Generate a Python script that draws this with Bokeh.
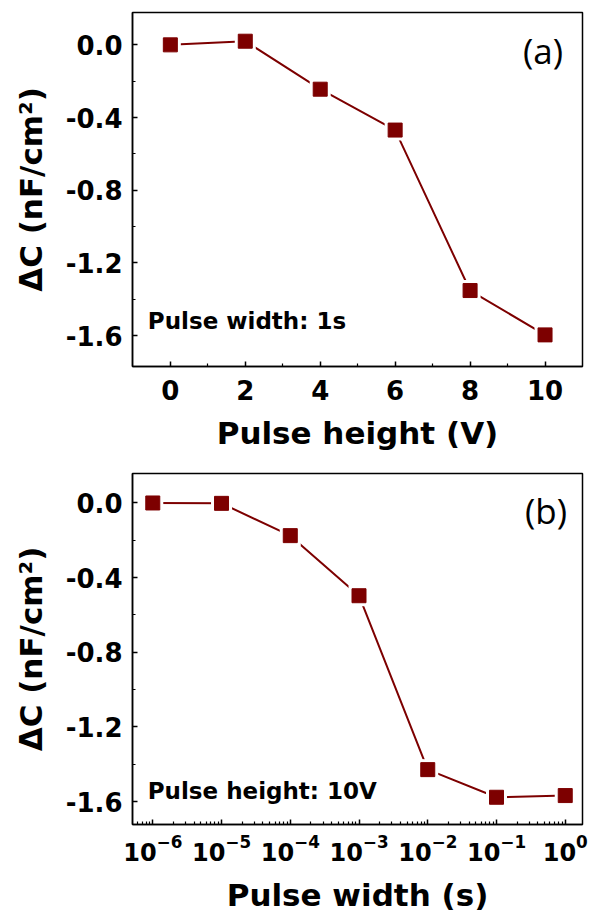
from bokeh.plotting import figure
from bokeh.models import Range1d, FixedTicker, NumeralTickFormatter, Label, LogTickFormatter
from bokeh.layouts import column
from bokeh.embed import file_html
from bokeh.resources import INLINE

# ---- data ----
pulse_height_v = [0, 2, 4, 6, 8, 10]
dc_vs_height = [0.0, 0.02, -0.244, -0.469, -1.352, -1.596]

pulse_width_s = [1e-6, 1e-5, 1e-4, 1e-3, 1e-2, 1e-1, 1e0]
dc_vs_width = [0.0, -0.002, -0.175, -0.497, -1.429, -1.577, -1.568]

y_major_ticks = [0.0, -0.4, -0.8, -1.2, -1.6]
y_minor_ticks = [-0.2, -0.6, -1.0, -1.4]
xa_major_ticks = [0, 2, 4, 6, 8, 10]
xa_minor_ticks = [1, 3, 5, 7, 9]
xb_major_ticks = [1e-6, 1e-5, 1e-4, 1e-3, 1e-2, 1e-1, 1e0]
xb_minor_ticks = [m * 10.0 ** e for e in range(-7, 1) for m in range(2, 10)]

MAROON = "#7d0000"
FONT = "DejaVu Sans"


def style(p, xlabel, ylabel):
    p.outline_line_color = "black"
    p.outline_line_width = 1.5
    p.xgrid.visible = False
    p.ygrid.visible = False
    p.background_fill_color = "white"
    p.border_fill_color = "white"
    for ax in (p.xaxis[0], p.yaxis[0]):
        ax.major_tick_in = 5
        ax.major_tick_out = 0
        ax.minor_tick_in = 3
        ax.minor_tick_out = 0
        ax.axis_line_width = 1.5
        ax.major_tick_line_width = 1.5
        ax.minor_tick_line_width = 1.2
        ax.major_label_text_font = FONT
        ax.major_label_text_font_style = "bold"
        ax.major_label_text_font_size = "26px"
        ax.major_label_text_color = "black"
        ax.axis_label_text_font = FONT
        ax.axis_label_text_font_style = "bold"
        ax.axis_label_text_font_size = "31px"
        ax.axis_label_text_color = "black"
    p.xaxis[0].axis_label = xlabel
    p.yaxis[0].axis_label = ylabel
    p.yaxis[0].major_label_standoff = 10
    p.yaxis[0].axis_label_standoff = 14
    p.yaxis[0].ticker = FixedTicker(ticks=y_major_ticks, minor_ticks=y_minor_ticks)
    p.yaxis[0].formatter = NumeralTickFormatter(format="0.0")


def series(p, x, y):
    p.line(x, y, line_color=MAROON, line_width=2)
    p.scatter(x, y, marker="square", size=21, fill_color="white", line_color=None)
    p.scatter(x, y, marker="square", size=14, fill_color=MAROON, line_color=MAROON)


# ---- panel (a) ----
pa = figure(width=589, height=460, output_backend="svg", toolbar_location=None,
            x_range=Range1d(-1.01, 11.0), y_range=Range1d(-1.77, 0.178),
            min_border_left=132, min_border_right=7, min_border_top=12, min_border_bottom=94)
style(pa, "Pulse height (V)", "ΔC (nF/cm²)")
pa.xaxis[0].ticker = FixedTicker(ticks=xa_major_ticks, minor_ticks=xa_minor_ticks)
pa.xaxis[0].major_label_standoff = 13
pa.xaxis[0].axis_label_standoff = 12
series(pa, pulse_height_v, dc_vs_height)
pa.add_layout(Label(x=-0.6, y=-1.517, text="Pulse width: 1s", text_font=FONT,
                    text_font_style="bold", text_font_size="23px", text_baseline="middle",
                    text_color="black"))
pa.add_layout(Label(x=10.48, y=-0.033, text="(a)", text_font="Open Sans",
                    text_font_size="35px", text_align="right", text_baseline="middle",
                    text_color="black"))

# ---- panel (b) ----
pb = figure(width=589, height=457, output_backend="svg", toolbar_location=None,
            x_axis_type="log",
            x_range=Range1d(10 ** -6.295, 10 ** 0.251), y_range=Range1d(-1.723, 0.158),
            min_border_left=132, min_border_right=6, min_border_top=13, min_border_bottom=93)
style(pb, "Pulse width (s)", "ΔC (nF/cm²)")
pb.xaxis[0].ticker = FixedTicker(ticks=xb_major_ticks, minor_ticks=xb_minor_ticks)
pb.xaxis[0].formatter = LogTickFormatter()
pb.xaxis[0].major_label_text_font_size = "24px"
pb.xaxis[0].major_label_standoff = 9
pb.xaxis[0].axis_label_standoff = 13
series(pb, pulse_width_s, dc_vs_width)
pb.add_layout(Label(x=8.45e-7, y=-1.541, text="Pulse height: 10V", text_font=FONT,
                    text_font_style="bold", text_font_size="23px", text_baseline="middle",
                    text_color="black"))
pb.add_layout(Label(x=1.06, y=-0.041, text="(b)", text_font="Open Sans",
                    text_font_size="35px", text_align="right", text_baseline="middle",
                    text_color="black"))

layout = column(pa, pb)
open("out.html", "w").write(file_html(layout, INLINE))
